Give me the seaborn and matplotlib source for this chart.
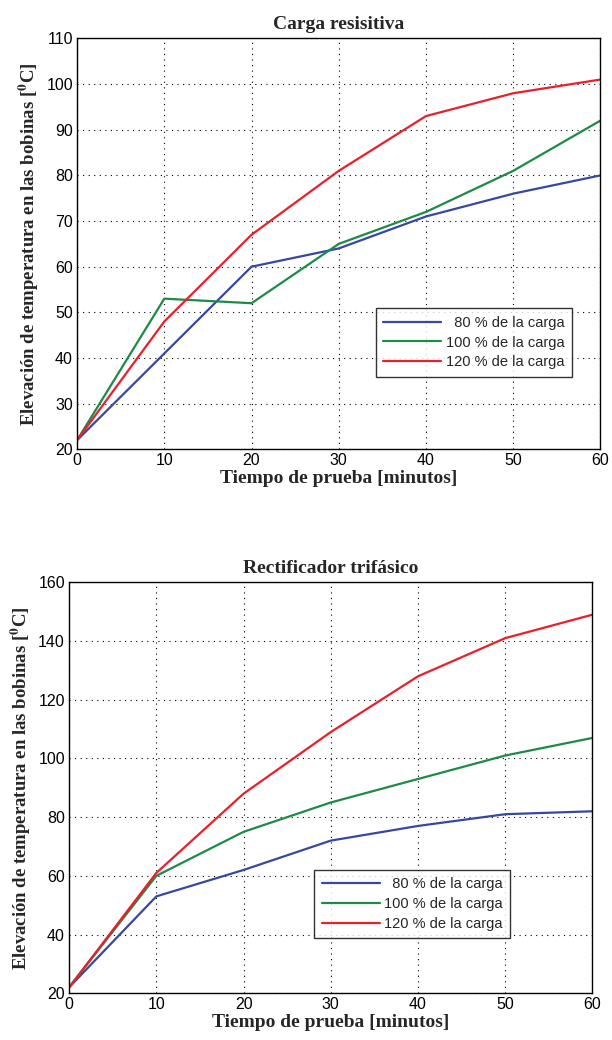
import numpy as np
import pandas as pd
import matplotlib
matplotlib.use("Agg")
import matplotlib.pyplot as plt
import seaborn as sns

# === Data ===
minutes = [0, 10, 20, 30, 40, 50, 60]
series_names = ["  80 % de la carga", "100 % de la carga", "120 % de la carga"]

# Carga resisitiva
res_80 = [22, 41, 60, 64, 71, 76, 80]
res_100 = [22, 53, 52, 65, 72, 81, 92]
res_120 = [22, 48, 67, 81, 93, 98, 101]

# Rectificador trifasico
rect_80 = [22, 53, 62, 72, 77, 81, 82]
rect_100 = [22, 60, 75, 85, 93, 101, 107]
rect_120 = [22, 61, 88, 109, 128, 141, 149]

colors = ["#3848a0", "#1e8a48", "#e8202c"]

# === Style ===
sns.set_theme(style="white")
plt.rcParams["font.family"] = ["Liberation Sans", "DejaVu Sans"]
plt.rcParams["mathtext.fontset"] = "stix"


def to_long(values):
    rows = []
    for name, vals in zip(series_names, values):
        for m, v in zip(minutes, vals):
            rows.append({"min": m, "temp": v, "serie": name})
    return pd.DataFrame(rows)


def draw_panel(ax, df, title, ylim, yticks, legend_corner):
    sns.lineplot(data=df, x="min", y="temp", hue="serie", palette=colors,
                 linewidth=1.6, ax=ax, legend=True)
    ax.set_xlim(0, 60)
    ax.set_ylim(*ylim)
    ax.set_xticks(minutes)
    ax.set_yticks(yticks)
    ax.grid(True, color="black", linestyle=(0, (1, 4)), linewidth=0.8)
    for s in ax.spines.values():
        s.set_color("black")
        s.set_linewidth(1.0)
    ax.tick_params(direction="in", length=4, labelsize=11.5, colors="black", pad=3)
    ax.set_title(title, family="Liberation Serif", fontweight="bold", fontsize=14, pad=7)
    ax.set_xlabel("Tiempo de prueba [minutos]", family="Liberation Serif",
                  fontweight="bold", fontsize=14, labelpad=1)
    ax.set_ylabel(r"Elevación de temperatura en las bobinas [$^{\mathbf{0}}$C]",
                  family="Liberation Serif", fontweight="bold", fontsize=13.5, labelpad=4)
    leg = ax.legend(loc="upper right", bbox_to_anchor=legend_corner,
                    fontsize=10.5, frameon=True, fancybox=False, handlelength=4.0,
                    handletextpad=0.3, borderpad=0.5, labelspacing=0.4, borderaxespad=0)
    leg.get_frame().set_edgecolor("black")
    leg.get_frame().set_linewidth(1.0)
    leg.set_title(None)


fig = plt.figure(figsize=(6.12, 10.4), dpi=100)
ax1 = fig.add_axes([0.126, 0.568, 0.855, 0.395])
ax2 = fig.add_axes([0.113, 0.045, 0.855, 0.395])

draw_panel(ax1, to_long([res_80, res_100, res_120]), "Carga resisitiva",
           (20, 110), np.arange(20, 111, 10), (0.945, 0.343))
draw_panel(ax2, to_long([rect_80, rect_100, rect_120]), "Rectificador trifásico",
           (20, 160), np.arange(20, 161, 20), (0.843, 0.30))

fig.savefig("out.png", dpi=100)
